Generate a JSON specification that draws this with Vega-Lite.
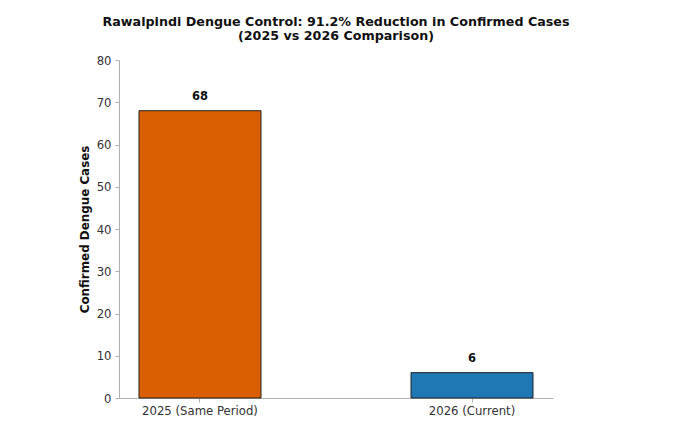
{
  "$schema": "https://vega.github.io/schema/vega-lite/v6.json",
  "width": 434,
  "height": 338,
  "autosize": "none",
  "padding": {"left": 119, "top": 60, "right": 141, "bottom": 33},
  "background": "white",
  "config": {
    "font": "DejaVu Sans",
    "view": {"stroke": null},
    "axis": {
      "domainColor": "#b0b0b0",
      "tickColor": "#b0b0b0",
      "tickSize": 4,
      "labelColor": "#333333",
      "labelFontSize": 11.7,
      "labelFont": "DejaVu Sans",
      "grid": false
    }
  },
  "title": {
    "text": ["Rawalpindi Dengue Control: 91.2% Reduction in Confirmed Cases", "(2025 vs 2026 Comparison)"],
    "font": "DejaVu Sans",
    "fontSize": 12.7,
    "fontWeight": "bold",
    "color": "#111111",
    "anchor": "middle",
    "offset": 12,
    "lineHeight": 14
  },
  "data": {
    "values": [
      {"period": "2025 (Same Period)", "cases": 68},
      {"period": "2026 (Current)", "cases": 6}
    ]
  },
  "encoding": {
    "x": {
      "field": "period",
      "type": "nominal",
      "sort": null,
      "title": null,
      "scale": {"paddingInner": 0.5515, "paddingOuter": 0.0735},
      "axis": {"labelAngle": 0, "labelPadding": 3}
    },
    "y": {
      "field": "cases",
      "type": "quantitative",
      "scale": {"domain": [0, 80], "nice": false},
      "axis": {
        "values": [0, 10, 20, 30, 40, 50, 60, 70, 80],
        "title": "Confirmed Dengue Cases",
        "titleFontSize": 11.9,
        "titleFontWeight": "bold",
        "titleColor": "#111111",
        "titlePadding": 6,
        "labelPadding": 4
      }
    }
  },
  "layer": [
    {
      "mark": {"type": "bar", "stroke": "#222222", "strokeWidth": 1},
      "encoding": {
        "color": {
          "field": "period",
          "type": "nominal",
          "scale": {"domain": ["2025 (Same Period)", "2026 (Current)"], "range": ["#d95f02", "#1f77b4"]},
          "legend": null
        }
      }
    },
    {
      "mark": {"type": "text", "dy": -14, "fontWeight": "bold", "fontSize": 11.5, "color": "#111111"},
      "encoding": {
        "text": {"field": "cases", "type": "quantitative"}
      }
    }
  ]
}
